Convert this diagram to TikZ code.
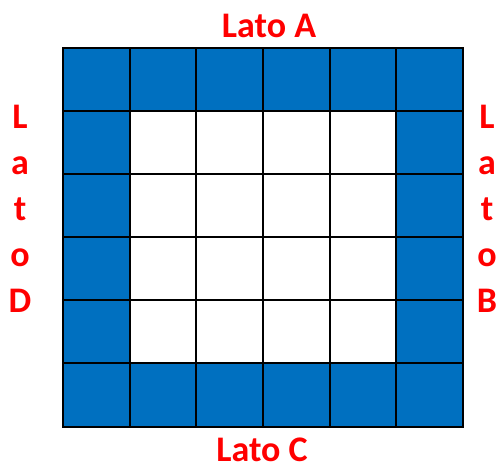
\documentclass[tikz,border=0pt]{standalone}
\usepackage{fontspec}
\setmainfont{Carlito}
\definecolor{cellblue}{HTML}{0070C0}
\definecolor{labred}{HTML}{FF0000}
\begin{document}
\begin{tikzpicture}[x=1pt,y=-1pt,
  blue cell/.style={fill=cellblue},
  grid line/.style={draw=black,line width=2pt},
  lab/.style={text=labred,font=\fontsize{36}{40}\selectfont\bfseries,anchor=base,inner sep=0pt,text depth=0pt}]
\useasboundingbox (0,0) rectangle (501,469);
\def\cw{66.6667}\def\ch{63.1667}
% blue border cells
\fill[blue cell] (63,47.5) rectangle (463,426.5);
\fill[white] (129.6667,110.6667) rectangle (396.3333,363.3333);
% grid
\foreach \i in {0,...,6} {
  \draw[grid line] (63+\i*\cw,47.5) -- (63+\i*\cw,426.5);
  \draw[grid line] (63,47.5+\i*\ch) -- (463,47.5+\i*\ch);
}
\draw[grid line] (63,47.5) rectangle (463,426.5);
% labels
\node[lab] (la) at (269,37) {Lato A};
\node[lab] (lc) at (262,461) {Lato C};
\foreach \t [count=\k from 0] in {L,a,t,o,D} {
  \node[lab] (d\k) at (20,128+\k*46) {\t};
}
\foreach \t [count=\k from 0] in {L,a,t,o,B} {
  \node[lab] (b\k) at (487,128+\k*46) {\t};
}
\end{tikzpicture}
\end{document}
